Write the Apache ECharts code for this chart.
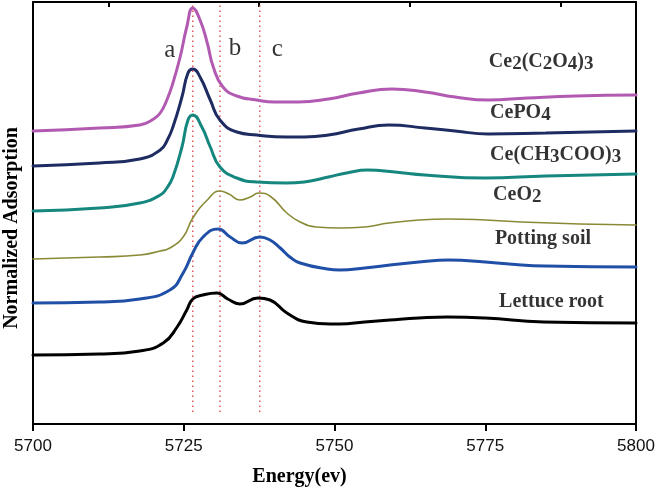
<!DOCTYPE html>
<html>
<head>
<meta charset="utf-8">
<script src="https://cdn.jsdelivr.net/npm/echarts@6/dist/echarts.min.js"></script>
<style>
html,body{margin:0;padding:0;background:#fff;}
#chart{width:657px;height:487px;}
</style>
</head>
<body>
<div id="chart"></div>
<script>
// x ticks
const xTicks = [5700, 5725, 5750, 5775, 5800];
const topTicks = [5712.5, 5737.5, 5762.5, 5787.5];

// spectra: [energy (eV), normalized absorption (offset, arbitrary units)]
const ce2c2o43 = [[5700,293],[5711,296],[5717.7,299],[5720,305],[5721.1,311],[5722.2,324],[5723.2,341],[5724.4,367],[5725.5,397],[5726.5,416],[5727.7,404],[5728.9,381],[5729.9,357],[5731.5,337],[5733.8,328],[5737.1,324],[5740,322],[5744,322],[5749,325],[5754,331],[5759.5,335],[5765,332],[5770,327],[5775.5,324],[5782,326],[5790,328],[5800,329]];
const cepo4 = [[5700,258],[5711,261],[5717.7,265],[5721.1,274],[5722.2,283],[5723.2,297],[5724.7,327],[5725.7,351],[5726.5,355],[5727.7,347],[5729.4,324],[5731,304],[5733.8,292],[5737.1,289],[5742,287],[5745,287],[5749,289],[5754,295],[5759,299],[5765,296],[5770,293],[5775.5,290],[5785,291],[5800,293]];
const ceAcetate = [[5700,213],[5711,216],[5717.7,221],[5721.1,229],[5722.2,236],[5723.2,247],[5724.7,277],[5725.7,304],[5726.5,309],[5728,297],[5729.4,277],[5731,257],[5733.8,246],[5737.1,242],[5742,241],[5745,242],[5749,247],[5752,251],[5755.5,254],[5760,252],[5765,249],[5775,246],[5785,248],[5800,250]];
const ceo2 = [[5700,165],[5711,167],[5717.7,169],[5721.1,173],[5722.7,176],[5724.9,187],[5726.5,206],[5728.9,224],[5731,233],[5732.5,230],[5734.3,224],[5736,227],[5737.4,231],[5739.5,227],[5742.1,211],[5744.3,202],[5747,197],[5750.9,196],[5755,197],[5759,201],[5764,204],[5769,205],[5775,204],[5781,202],[5790.7,200],[5800,199]];
const pottingSoil = [[5700,121],[5711,122],[5717.7,125],[5722.7,134],[5724.9,151],[5726.5,171],[5728.2,187],[5730.7,195],[5732.7,187],[5734.7,181],[5737.6,187],[5739.3,184],[5741,176],[5742.6,167],[5744.3,161],[5748.8,155],[5750.9,154],[5755,156],[5759.2,159],[5764,162],[5769,164],[5775,162],[5781,159],[5785,158],[5800,157]];
const lettuceRoot = [[5700,69],[5711,70],[5717.7,73],[5721.6,81],[5723.9,97],[5725.5,114],[5726.5,125],[5728.2,129],[5730.5,131],[5732.3,125],[5734.3,120],[5737.3,126],[5739.3,124],[5742.1,111],[5745.4,102],[5749.3,100],[5750.9,100],[5755,102],[5759.2,104],[5764,106],[5768.7,107],[5775,106],[5784.7,102],[5800,101]];

// reference energies of features a, b, c
const featureNames = ['a', 'b', 'c'];
const featureEnergies = [5726.5, 5731, 5737.6];
const featureLabelX = [5722.7, 5733.5, 5740.5];
const featureLabelY = [374, 376, 375];

// curve names (rich text) and label anchor points
const curveLabels = [
  '{n|Ce}{s|2}{n|(C}{s|2}{n|O}{s|4}{n|)}{s|3}',
  '{n|CePO}{s|4}',
  '{n|Ce(CH}{s|3}{n|COO)}{s|3}',
  '{n|CeO}{s|2}',
  '{n|Potting soil}',
  '{n|Lettuce root}'
];
const curveLabelX = [5775.6, 5775.8, 5775.8, 5776.3, 5776.6, 5777.3];
const curveLabelY = [362, 311, 269, 229, 185, 122];

const Y_MIN = 0, Y_MAX = 422;
const LINE_TOP = 422, LINE_BOTTOM = 12;

const serif = '"Liberation Serif","Times New Roman",serif';

const curves = [
  {name: 'Ce2(C2O4)3', data: ce2c2o43, color: '#b25ab2', width: 3},
  {name: 'CePO4', data: cepo4, color: '#1e2c62', width: 3},
  {name: 'Ce(CH3COO)3', data: ceAcetate, color: '#16877f', width: 3},
  {name: 'CeO2', data: ceo2, color: '#8a8a36', width: 1.6},
  {name: 'Potting soil', data: pottingSoil, color: '#1f4fa6', width: 3},
  {name: 'Lettuce root', data: lettuceRoot, color: '#000000', width: 3}
];

const series = [];
featureEnergies.forEach((e, i) => {
  series.push({
    type: 'line', xAxisIndex: 0, yAxisIndex: 0,
    data: [[e, LINE_BOTTOM], [e, LINE_TOP]],
    symbol: 'none', silent: true, z: 1,
    lineStyle: {color: '#e05a5a', width: 1.5, type: [1.5, 3.5]}
  });
});
curves.forEach(c => {
  series.push({
    type: 'line', name: c.name, data: c.data, xAxisIndex: 0, yAxisIndex: 0,
    smooth: 0.5, symbol: 'none', z: 3,
    lineStyle: {color: c.color, width: c.width, join: 'round', cap: 'round'}
  });
});
series.push({
  type: 'scatter', symbolSize: 0, silent: true,
  data: featureNames.map((n, i) => ({value: [featureLabelX[i], featureLabelY[i]], name: n})),
  label: {show: true, position: 'inside', formatter: p => p.name,
    fontFamily: serif, fontSize: 25, color: '#000'}
});
series.push({
  type: 'scatter', symbolSize: 0, silent: true,
  data: curveLabels.map((t, i) => ({value: [curveLabelX[i], curveLabelY[i]], name: t})),
  label: {show: true, position: 'right', distance: 0, formatter: p => p.name,
    rich: {
      n: {fontFamily: serif, fontWeight: 'bold', fontSize: 20, color: '#000', lineHeight: 24, verticalAlign: 'middle'},
      s: {fontFamily: serif, fontWeight: 'bold', fontSize: 19, color: '#000', lineHeight: 17, verticalAlign: 'bottom'}
    }}
});

const chart = echarts.init(document.getElementById('chart'), null, {renderer: 'canvas'});
chart.setOption({
  animation: false,
  backgroundColor: '#fff',
  grid: {left: 33, right: 21, top: 2, bottom: 63, containLabel: false, outerBoundsMode: 'none'},
  xAxis: [{
    type: 'value', min: xTicks[0], max: xTicks[xTicks.length - 1], interval: 25,
    position: 'bottom',
    name: 'Energy(ev)', nameLocation: 'middle', nameGap: 43,
    nameTextStyle: {fontFamily: serif, fontWeight: 'bold', fontSize: 20, color: '#000', padding: [0, 70, 0, 0]},
    axisLine: {show: true, onZero: false, lineStyle: {color: '#000', width: 2}},
    axisTick: {show: true, inside: false, length: 7, lineStyle: {color: '#000', width: 2}},
    axisLabel: {show: true, margin: 14, formatter: v => String(v),
      fontFamily: '"Liberation Sans",Arial,sans-serif', fontSize: 17, color: '#111'},
    splitLine: {show: false}
  }, {
    type: 'value', min: xTicks[0], max: xTicks[xTicks.length - 1],
    position: 'top',
    axisLine: {show: true, onZero: false, lineStyle: {color: '#000', width: 2}},
    axisTick: {show: true, inside: true, length: 5, customValues: topTicks, lineStyle: {color: '#000', width: 2}},
    axisLabel: {show: false},
    splitLine: {show: false}
  }],
  yAxis: [{
    type: 'value', min: Y_MIN, max: Y_MAX, position: 'left',
    axisLine: {show: true, onZero: false, lineStyle: {color: '#000', width: 2}},
    axisTick: {show: false}, axisLabel: {show: false}, splitLine: {show: false}
  }, {
    type: 'value', min: Y_MIN, max: Y_MAX, position: 'right',
    axisLine: {show: true, onZero: false, lineStyle: {color: '#000', width: 2}},
    axisTick: {show: false}, axisLabel: {show: false}, splitLine: {show: false}
  }],
  graphic: [{
    type: 'text', x: 12, y: 228, rotation: Math.PI / 2,
    style: {text: 'Normalized Adsorption', align: 'center', verticalAlign: 'middle',
      font: 'bold 20px ' + serif, fill: '#000'}
  }],
  series: series
});
</script>
</body>
</html>
